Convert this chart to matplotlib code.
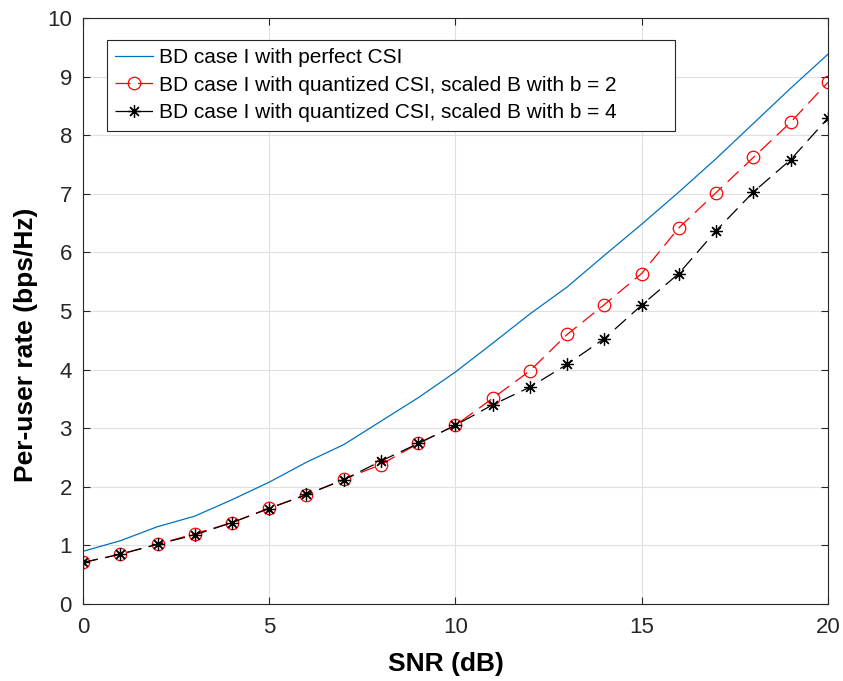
import matplotlib
matplotlib.use('Agg')
import matplotlib.pyplot as plt
import numpy as np

plt.rcParams['font.family'] = ['Liberation Sans', 'DejaVu Sans']

snr = np.arange(0, 21)
rate_perfect = [0.90, 1.08, 1.32, 1.50, 1.78, 2.08, 2.42, 2.72, 3.12, 3.52, 3.96,
                4.45, 4.95, 5.41, 5.95, 6.48, 7.03, 7.60, 8.20, 8.80, 9.38]
rate_b2 = [0.71, 0.85, 1.02, 1.20, 1.39, 1.64, 1.86, 2.13, 2.38, 2.74, 3.05,
           3.51, 3.98, 4.60, 5.11, 5.64, 6.42, 7.02, 7.62, 8.22, 8.90]
rate_b4 = [0.71, 0.85, 1.02, 1.18, 1.39, 1.63, 1.87, 2.12, 2.44, 2.74, 3.05,
           3.40, 3.70, 4.09, 4.53, 5.10, 5.64, 6.37, 7.03, 7.58, 8.29]
labels = ['BD case I with perfect CSI',
          'BD case I with quantized CSI, scaled B with b = 2',
          'BD case I with quantized CSI, scaled B with b = 4']

fig = plt.figure(figsize=(8.43, 6.81), dpi=100)
ax = fig.add_axes([0.0985, 0.113, 0.8835, 0.8606])

ax.plot(snr, rate_perfect, color='#0072BD', lw=0.9, label=labels[0])
ax.plot(snr, rate_b2, color='red', lw=0.9, ls=(0, (12, 6)), marker='o',
        ms=9, mfc='none', mec='red', mew=0.9, label=labels[1])
ax.plot(snr, rate_b4, color='black', lw=0.9, ls=(0, (12, 6)), marker=(8, 2, 0),
        ms=9, mec='black', mew=0.9, label=labels[2])

ax.set_xlim(0, 20)
ax.set_ylim(0, 10)
ax.set_xticks(np.arange(0, 21, 5))
ax.set_yticks(np.arange(0, 11, 1))
ax.grid(True, color='#e0e0e0', lw=0.8)
ax.set_axisbelow(True)
ax.tick_params(direction='in', labelsize=16, top=True, right=True, length=5,
               color='#262626', labelcolor='#262626')
ax.tick_params(axis='x', pad=9)
ax.tick_params(axis='y', pad=8)
for s in ax.spines.values():
    s.set_color('#262626')
    s.set_linewidth(0.8)

ax.set_xlabel('SNR (dB)', fontsize=19, fontweight='bold')
ax.set_ylabel('Per-user rate (bps/Hz)', fontsize=19, fontweight='bold')
ax.xaxis.set_label_coords(0.487, -0.082)
ax.yaxis.set_label_coords(-0.06, 0.442)

leg = ax.legend(loc='upper left', bbox_to_anchor=(0.0322, 0.963, 0.7624, 0.0),
                mode='expand', fontsize=15,
                fancybox=False, edgecolor='#262626', framealpha=1,
                handlelength=1.8, handletextpad=0.3, borderpad=0.4,
                labelspacing=0.42, borderaxespad=0)
leg.get_frame().set_linewidth(0.8)

fig.savefig('out.png', dpi=100)
